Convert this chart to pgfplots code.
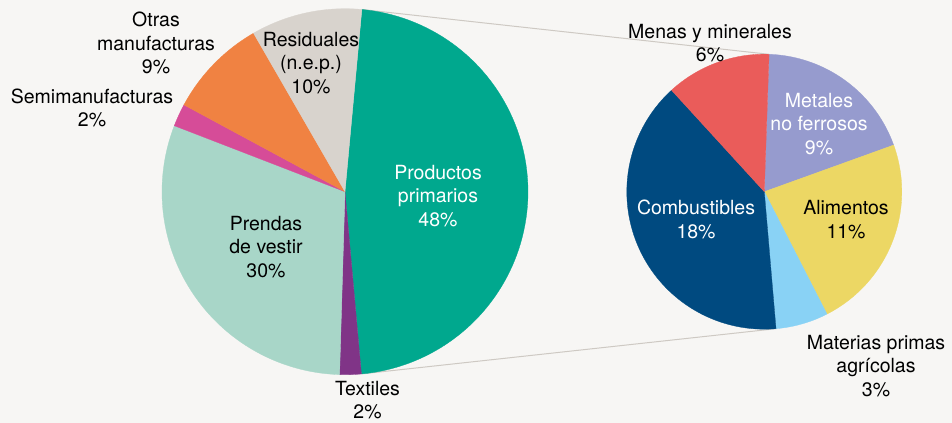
\documentclass[border=0pt]{standalone}
\usepackage{fontspec}
\setmainfont{TeX Gyre Heros}
\usepackage{pgfplots}
\pgfplotsset{compat=1.18}
\definecolor{bg}{RGB}{247,246,244}
\definecolor{cPrim}{RGB}{0,168,142}
\definecolor{cText}{RGB}{128,52,135}
\definecolor{cPrend}{RGB}{168,214,200}
\definecolor{cSemi}{RGB}{214,76,152}
\definecolor{cOtras}{RGB}{240,130,66}
\definecolor{cResid}{RGB}{216,211,205}
\definecolor{cMenas}{RGB}{234,92,90}
\definecolor{cMetal}{RGB}{150,155,206}
\definecolor{cAlim}{RGB}{236,215,100}
\definecolor{cMater}{RGB}{137,210,245}
\definecolor{cComb}{RGB}{0,74,128}
\definecolor{linegray}{RGB}{206,201,195}
\tikzset{lbl/.style={font=\fontsize{19.5bp}{23.5bp}\selectfont,align=center,text=black,inner sep=0pt}}
% slice: #1 cx, #2 cy, #3 radius, #4 value, #5 total, #6 colour (clockwise from \curang)
\newcommand\pieslice[6]{%
  \pgfmathsetmacro\endang{\curang-(#4)/(#5)*360}%
  \edef\temp{\noexpand\addplot[fill=#6,draw=#6,line width=0.3bp,domain=\endang:\curang,samples=90,variable=\noexpand\t] ({#1+#3*cos(\noexpand\t)},{#2+#3*sin(\noexpand\t)}) -- (axis cs:#1,#2) -- cycle;}%
  \temp
  \xdef\curang{\endang}}
\begin{document}
\begin{tikzpicture}
\fill[bg] (0,0) rectangle (952bp,423bp);
\begin{axis}[at={(0,0)},anchor=south west,width=952bp,height=423bp,scale only axis,
  xmin=0,xmax=952,ymin=0,ymax=423,axis lines=none,ticks=none,clip=false]
% connector lines
\addplot[draw=linegray,line width=1bp] coordinates {(361.9,413.5) (769.1,368.7)};
\addplot[draw=linegray,line width=1bp] coordinates {(361.9,49.1) (776.8,94.4)};
% left pie (total exports, %)
\gdef\curang{84.7}
\pieslice{345}{231.3}{183}{47.1}{100}{cPrim}
\pieslice{345}{231.3}{183}{1.9}{100}{cText}
\pieslice{345}{231.3}{183}{30.4}{100}{cPrend}
\pieslice{345}{231.3}{183}{2.0}{100}{cSemi}
\pieslice{345}{231.3}{183}{8.8}{100}{cOtras}
\pieslice{345}{231.3}{183}{9.8}{100}{cResid}
% right pie (breakdown of primary products)
\gdef\curang{88.0}
\pieslice{764.3}{231.3}{137.5}{8.9}{47.0}{cMetal}
\pieslice{764.3}{231.3}{137.5}{10.8}{47.0}{cAlim}
\pieslice{764.3}{231.3}{137.5}{2.9}{47.0}{cMater}
\pieslice{764.3}{231.3}{137.5}{18.6}{47.0}{cComb}
\pieslice{764.3}{231.3}{137.5}{5.8}{47.0}{cMenas}
% labels
\node[lbl,text=white] at (axis cs:438,227) {Productos\\primarios\\48\%};
\node[lbl] at (axis cs:311,360) {Residuales\\(n.e.p.)\\10\%};
\node[lbl] at (axis cs:156,380) {Otras\\manufacturas\\9\%};
\node[lbl] at (axis cs:92,315) {Semimanufacturas\\2\%};
\node[lbl] at (axis cs:266,176) {Prendas\\de vestir\\30\%};
\node[lbl] at (axis cs:367.5,23) {Textiles\\2\%};
\node[lbl] at (axis cs:710,380) {Menas y minerales\\6\%};
\node[lbl,text=white] at (axis cs:819,299) {Metales\\no ferrosos\\9\%};
\node[lbl] at (axis cs:846,203.5) {Alimentos\\11\%};
\node[lbl,text=white] at (axis cs:696,203.5) {Combustibles\\18\%};
\node[lbl] at (axis cs:876,57) {Materias primas\\agrícolas\\3\%};
\end{axis}
\pgfresetboundingbox
\path[use as bounding box] (0,0) rectangle (952bp,423bp);
\end{tikzpicture}
\end{document}
